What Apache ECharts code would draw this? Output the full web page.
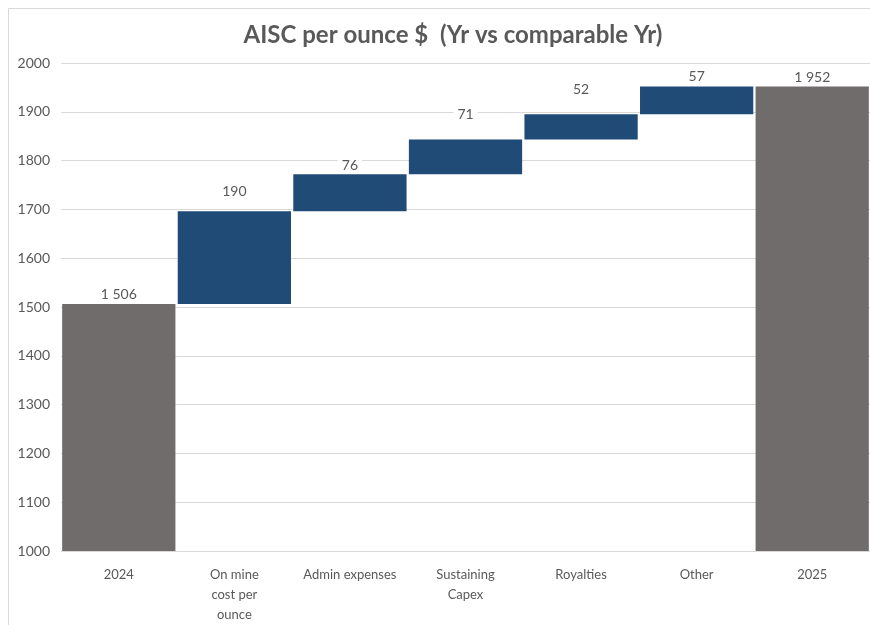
<!DOCTYPE html>
<html>
<head>
<meta charset="utf-8">
<script src="https://cdn.jsdelivr.net/npm/echarts@6/dist/echarts.min.js"></script>
<style>
  html, body { margin: 0; padding: 0; background: #fff; }
  #main { width: 870px; height: 625px; }
</style>
</head>
<body>
<div id="main"></div>
<script>
// categories + values
var categories = ['2024', 'On mine\ncost per\nounce', 'Admin expenses', 'Sustaining\nCapex', 'Royalties', 'Other', '2025'];
var startTotal = 1506;
var changes = [190, 76, 71, 52, 57];
var endTotal = 1952;
var yTicks = { min: 1000, max: 2000, interval: 100 };

// label lift above each bar (px), Excel puts them a bit unevenly
var labelLift = [3, 13, 2, 18, 18, 3, 2];

var chart = echarts.init(document.getElementById('main'), null, { renderer: 'canvas' });

// build invisible base + visible parts
var baseData = [0];
var totalData = [startTotal];
var deltaData = ['-'];
var running = startTotal;
for (var i = 0; i < changes.length; i++) {
  baseData.push(running);
  totalData.push('-');
  deltaData.push(changes[i]);
  running += changes[i];
}
baseData.push(0);
totalData.push(endTotal);
deltaData.push('-');

function fmt(v) {
  // "1 506" style
  return String(v).replace(/\B(?=(\d{3})+(?!\d))/g, ' ');
}

function withLabels(arr) {
  return arr.map(function (v, idx) {
    if (v === '-') return '-';
    return { value: v, label: { distance: labelLift[idx] } };
  });
}

var labelStyle = {
  show: true,
  position: 'top',
  color: '#595959',
  fontSize: 14,
  fontFamily: 'Lato',
  backgroundColor: '#fff',
  padding: [0, 4],
  formatter: function (p) { return fmt(p.value); }
};

var option = {
  backgroundColor: '#fff',
  animation: false,
  textStyle: { fontFamily: 'Lato' },
  title: {
    text: 'AISC per ounce $  (Yr vs comparable Yr)',
    left: 448,
    textAlign: 'center',
    top: 18,
    textStyle: { color: '#595959', fontSize: 24, fontWeight: 'bold', fontFamily: 'Lato' }
  },
  graphic: [{
    type: 'rect',
    shape: { x: 8.5, y: 8.5, width: 900, height: 700 },
    style: { fill: 'none', stroke: '#d9d9d9', lineWidth: 1 },
    silent: true
  }],
  grid: { left: 61, right: 0, top: 63, bottom: 72 },
  xAxis: {
    type: 'category',
    data: categories,
    axisLine: { show: false },
    axisTick: { show: false },
    axisLabel: {
      color: '#595959',
      fontSize: 13,
      fontFamily: 'Lato',
      margin: 14,
      lineHeight: 20,
      interval: 0
    }
  },
  yAxis: {
    type: 'value',
    min: yTicks.min,
    max: yTicks.max,
    interval: yTicks.interval,
    axisLine: { show: false },
    axisTick: { show: false },
    axisLabel: {
      color: '#595959',
      fontSize: 14,
      fontFamily: 'Lato',
      margin: 11,
      formatter: function (v) { return String(v); }
    },
    splitLine: { lineStyle: { color: '#d9d9d9', width: 1 } }
  },
  series: [
    {
      name: 'base',
      type: 'bar',
      stack: 'wf',
      barCategoryGap: '2%',
      itemStyle: { color: 'transparent' },
      silent: true,
      data: baseData
    },
    {
      name: 'total',
      type: 'bar',
      stack: 'wf',
      barCategoryGap: '2%',
      itemStyle: { color: '#706c6b' },
      label: labelStyle,
      data: withLabels(totalData)
    },
    {
      name: 'change',
      type: 'bar',
      stack: 'wf',
      barCategoryGap: '2%',
      itemStyle: { color: '#1f4b76' },
      label: labelStyle,
      data: withLabels(deltaData)
    }
  ]
};

chart.setOption(option);
</script>
</body>
</html>
